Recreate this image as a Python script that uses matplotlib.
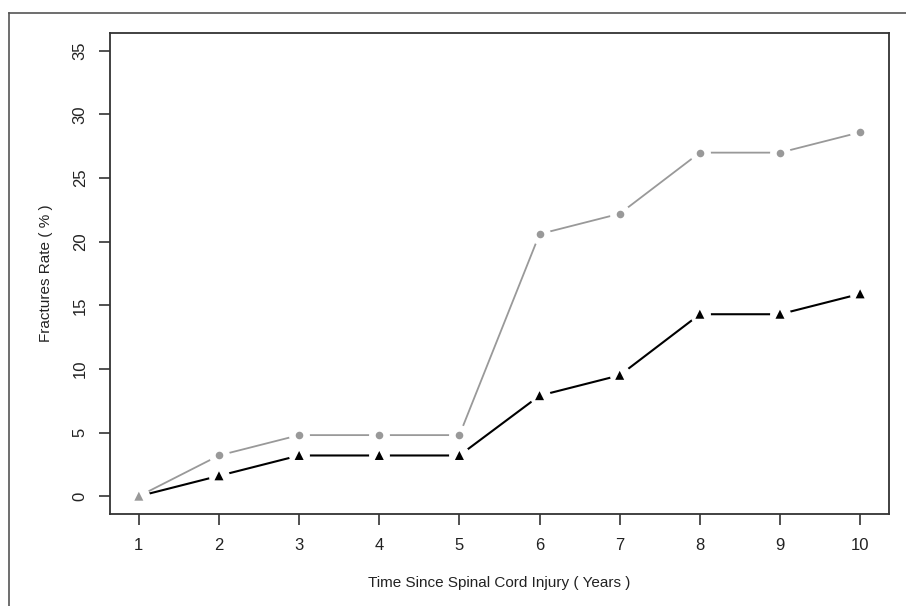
import matplotlib.pyplot as plt
from matplotlib.lines import Line2D

plt.rcParams['font.family'] = ['Liberation Sans', 'DejaVu Sans']

years = [1, 2, 3, 4, 5, 6, 7, 8, 9, 10]
rate_grey = [0, 3.2, 4.8, 4.8, 4.8, 20.6, 22.2, 27.0, 27.0, 28.6]
rate_black = [0, 1.6, 3.2, 3.2, 3.2, 7.9, 9.5, 14.3, 14.3, 15.9]
yticks = [0, 5, 10, 15, 20, 25, 30, 35]

grey = '#999999'

fig = plt.figure(figsize=(9.06, 6.06), dpi=100)
ax = fig.add_axes([0.1214, 0.1518, 0.8598, 0.7937])

# R type="b": lines with gaps around the points
ax.plot(years, rate_grey, color=grey, lw=1.3, zorder=1)
ax.plot(years, rate_black, color='black', lw=1.5, zorder=1)
ax.plot(years, rate_grey, ls='none', marker='o', ms=14, color='white', zorder=2)
ax.plot(years, rate_black, ls='none', marker='o', ms=14, color='white', zorder=2)

# black triangles (first point overdrawn in grey as in the original)
tri_colors = [grey] + ['black'] * (len(years) - 1)
ax.scatter(years, rate_black, marker='^', s=42, c=tri_colors, zorder=3, linewidths=0)
ax.scatter(years[1:], rate_grey[1:], marker='o', s=30, color=grey, zorder=3, linewidths=0)

ax.set_xlim(0.64, 10.36)
ax.set_ylim(-1.4, 36.4)
ax.set_xticks(years)
ax.set_yticks(yticks)
ax.set_yticklabels([str(v) for v in yticks], rotation=90, va='center')
ax.tick_params(axis='both', direction='out', length=8, width=1.2, color='#333333',
               labelsize=12, labelcolor='#222222')
ax.tick_params(axis='x', pad=9)
ax.tick_params(axis='y', pad=8)
for s in ax.spines.values():
    s.set_linewidth(1.3)
    s.set_color('#333333')

ax.set_xlabel('Time Since Spinal Cord Injury ( Years )', fontsize=11, color='#222222', labelpad=17)
ax.set_ylabel('Fractures Rate ( % )', fontsize=11, color='#222222', labelpad=14)

# outer frame (top and left only, as cropped in the reference)
fig.add_artist(Line2D([9 / 906, 1], [1 - 13 / 606, 1 - 13 / 606], transform=fig.transFigure,
                      color='#555555', lw=1.2))
fig.add_artist(Line2D([9 / 906, 9 / 906], [0, 1 - 13 / 606], transform=fig.transFigure,
                      color='#555555', lw=1.2))

fig.savefig('out.png', dpi=100)
